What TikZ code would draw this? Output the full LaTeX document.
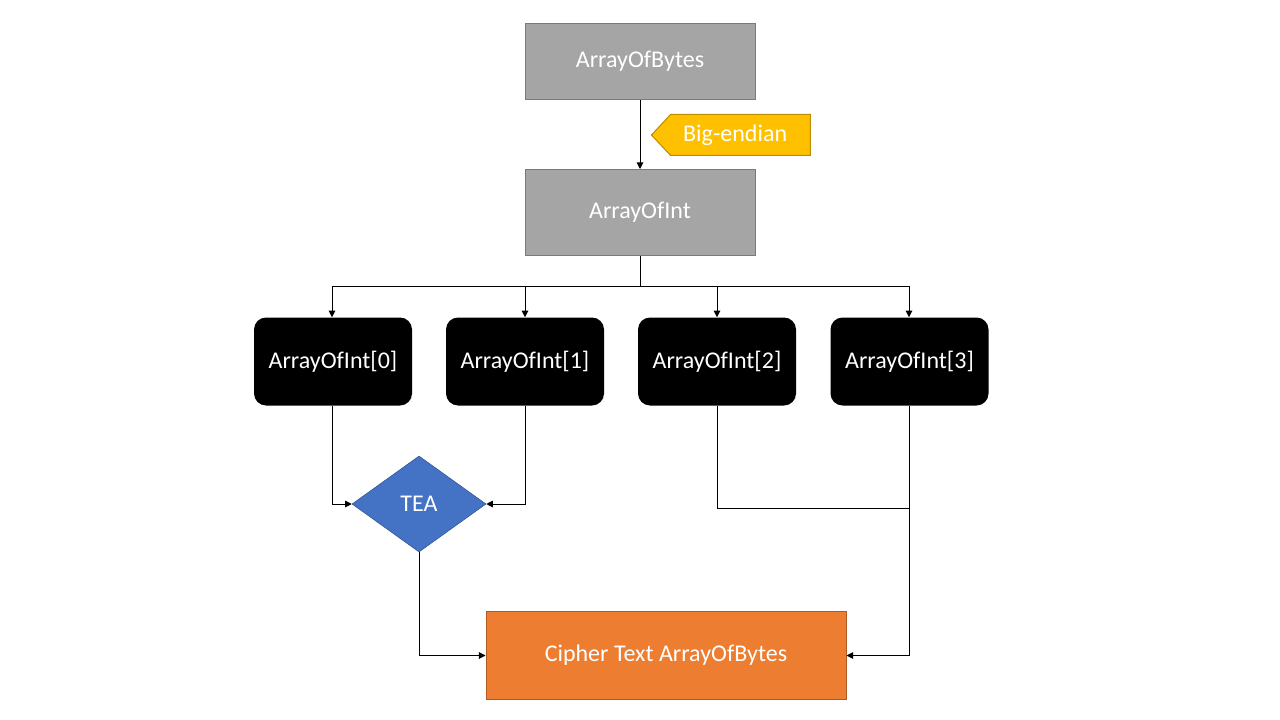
\documentclass[tikz,border=0pt]{standalone}
\usepackage{fontspec}
\setmainfont{Carlito}
\usetikzlibrary{shapes.geometric,shapes.symbols,arrows.meta}
\definecolor{grayfill}{HTML}{A5A5A5}
\definecolor{grayline}{HTML}{7A7A7A}
\definecolor{gold}{HTML}{FFC000}
\definecolor{goldline}{HTML}{BC8C00}
\definecolor{teablue}{HTML}{4472C4}
\definecolor{tealine}{HTML}{2F528F}
\definecolor{orangefill}{HTML}{ED7D31}
\definecolor{orangeline}{HTML}{AE5A21}
\tikzset{
  every node/.style={font=\fontsize{18}{21}\selectfont, text=white, inner sep=0pt},
  graybox/.style={rectangle, fill=grayfill, draw=grayline, line width=0.75pt, minimum width=172.5pt},
  blackbox/.style={rectangle, rounded corners=9pt, fill=black, minimum width=118.5pt, minimum height=66pt},
  tag/.style={signal, signal to=west, signal from=nowhere, signal pointer angle=94, fill=gold, draw=goldline, line width=0.75pt, minimum width=119.25pt, minimum height=30.75pt},
  teashape/.style={diamond, fill=teablue, draw=tealine, line width=0.4pt, minimum width=100.5pt, minimum height=72pt, aspect=1.4},
  cipherbox/.style={rectangle, fill=orangefill, draw=orangeline, line width=0.75pt, minimum width=270pt, minimum height=66pt},
  conn/.style={draw=black, line width=0.75pt},
  arr/.style={conn, -{Triangle[length=5pt,width=5pt]}},
}
\begin{document}
\begin{tikzpicture}[x=0.75pt,y=-0.75pt]
\useasboundingbox (0,0) rectangle (1280,720);
\node[graybox, minimum height=57pt] (bytes) at (640,61.5) {ArrayOfBytes};
\node[tag] (endian) at (740.5,135) {\hspace*{-8pt}Big-endian};
\node[graybox, minimum height=64.5pt] (int) at (640,212.5) {ArrayOfInt};
\node[blackbox] (i0) at (333,361.5) {ArrayOfInt[0]};
\node[blackbox] (i1) at (525,361.5) {ArrayOfInt[1]};
\node[blackbox] (i2) at (717,361.5) {ArrayOfInt[2]};
\node[blackbox] (i3) at (909.5,361.5) {ArrayOfInt[3]};
\node[teashape] (tea) at (419,504) {TEA};
\node[cipherbox] (cipher) at (666,655.5) {Cipher Text ArrayOfBytes};
\coordinate (split) at (640,286);
\coordinate (join) at (909,508);

\draw[arr] (bytes.south) -- (int.north);
\draw[conn] (int.south) -- (split);
\draw[arr] (split) -| (i0.north -| 332,0);
\draw[arr] (split) -| (i1.north);
\draw[arr] (split) -| (i2.north);
\draw[arr] (split) -| (i3.north -| 909,0);
\draw[arr] (i0.south -| 332,0) |- (tea.west);
\draw[arr] (i1.south) |- (tea.east);
\draw[arr] (tea.south) |- (cipher.west);
\draw[conn] (i2.south) |- (join);
\draw[arr] (i3.south -| 909,0) |- (cipher.east);
\end{tikzpicture}
\end{document}
